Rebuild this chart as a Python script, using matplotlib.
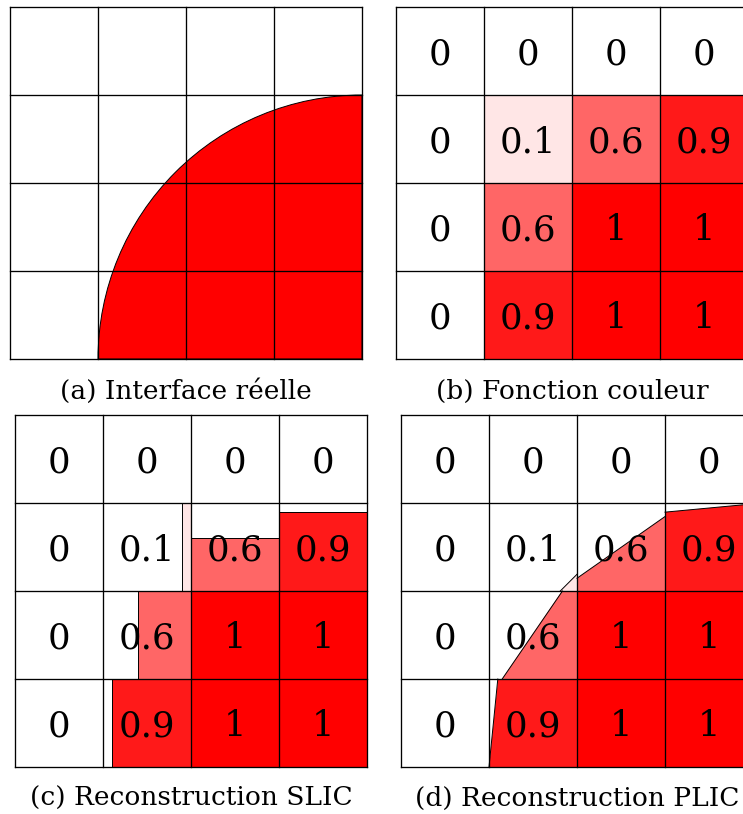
import numpy as np
import matplotlib
matplotlib.use("Agg")
import matplotlib.pyplot as plt
from matplotlib.patches import Polygon, Rectangle, Wedge

# ---------------- data ----------------
# volume fractions, rows listed from top to bottom
fractions = [
    [0, 0, 0, 0],
    [0, 0.1, 0.6, 0.9],
    [0, 0.6, 1, 1],
    [0, 0.9, 1, 1],
]
# SLIC: direction of the reconstruction in each mixed cell
# 'x' -> liquid column at the right of the cell, 'y' -> liquid layer at the bottom
slic_orient = [
    [None, None, None, None],
    [None, "x", "y", "y"],
    [None, "x", None, None],
    [None, "x", None, None],
]
# PLIC: interface segment in each mixed cell (local cell coords, y upward)
plic_segments = {
    (1, 1): ((0.81, 0.0), (1.0, 0.19)),
    (1, 2): ((0.0, 0.145), (1.0, 0.846)),
    (1, 3): ((0.0, 0.896), (1.0, 0.99)),
    (2, 1): ((0.15, 0.0), (0.835, 1.0)),
    (3, 1): ((0.0, 0.0), (0.10, 1.0)),
}
# true interface: quarter circle centred on the lower-right corner
circle_center = (4, 0)
circle_radius = 3

captions = ["(a) Interface réelle", "(b) Fonction couleur",
            "(c) Reconstruction SLIC", "(d) Reconstruction PLIC"]

# ---------------- style ----------------
W, H = 743, 814
FONT = "DejaVu Serif"
GRID_LW = 0.95
EDGE_LW = 0.7
NUM_SIZE = 25.5
CAP_SIZE = 19


def color_of(f):
    return (1.0, 1.0 - f, 1.0 - f)


fig = plt.figure(figsize=(W / 100, H / 100), dpi=100)


def make_ax(left, top, size=352):
    ax = fig.add_axes([left / W, (H - top - size) / H, size / W, size / H])
    ax.set_xlim(0, 4)
    ax.set_ylim(0, 4)
    ax.axis("off")
    return ax


def draw_grid(ax):
    for k in range(5):
        ax.plot([k, k], [0, 4], color="black", lw=GRID_LW, zorder=5, clip_on=False,
                solid_capstyle="projecting")
        ax.plot([0, 4], [k, k], color="black", lw=GRID_LW, zorder=5, clip_on=False,
                solid_capstyle="projecting")


def draw_numbers(ax):
    for r, row in enumerate(fractions):
        for c, v in enumerate(row):
            ax.text(c + 0.5, 3 - r + 0.5, f"{v:g}", ha="center", va="center_baseline",
                    fontsize=NUM_SIZE, family=FONT, zorder=3)


def clip_square(p0, p1, keep=(1.0, 0.0)):
    """Part of the unit square on the side of the line p0-p1 that holds `keep`."""
    (x0, y0), (x1, y1) = p0, p1

    def side(p):
        return (x1 - x0) * (p[1] - y0) - (y1 - y0) * (p[0] - x0)

    s_keep = np.sign(side(keep))
    square = [(0, 0), (1, 0), (1, 1), (0, 1)]
    out = []
    n = len(square)
    for i in range(n):
        a, b = square[i], square[(i + 1) % n]
        sa, sb = side(a) * s_keep, side(b) * s_keep
        if sa >= -1e-12:
            out.append(a)
        if (sa > 1e-12 and sb < -1e-12) or (sa < -1e-12 and sb > 1e-12):
            t = sa / (sa - sb)
            out.append((a[0] + t * (b[0] - a[0]), a[1] + t * (b[1] - a[1])))
    return out


# (a) true interface
ax_a = make_ax(10, 7)
ax_a.add_patch(Wedge(circle_center, circle_radius, 90, 180, facecolor="red",
                     edgecolor="black", lw=EDGE_LW, zorder=1))
draw_grid(ax_a)

# (b) colour function
ax_b = make_ax(396, 7)
for r, row in enumerate(fractions):
    for c, v in enumerate(row):
        if v > 0:
            ax_b.add_patch(Rectangle((c, 3 - r), 1, 1, facecolor=color_of(v),
                                     edgecolor="none", zorder=1))
draw_numbers(ax_b)
draw_grid(ax_b)

# (c) SLIC reconstruction
ax_c = make_ax(15, 415)
for r, row in enumerate(fractions):
    for c, v in enumerate(row):
        if v <= 0:
            continue
        y = 3 - r
        if v >= 1:
            ax_c.add_patch(Rectangle((c, y), 1, 1, facecolor=color_of(v),
                                     edgecolor="none", zorder=1))
            continue
        if slic_orient[r][c] == "x":
            xy, w, h = (c + 1 - v, y), v, 1
        else:
            xy, w, h = (c, y), 1, v
        ax_c.add_patch(Rectangle(xy, w, h, facecolor=color_of(v),
                                 edgecolor="none", zorder=2))
        ax_c.add_patch(Rectangle(xy, w, h, facecolor="none",
                                 edgecolor="black", lw=EDGE_LW, zorder=4))
draw_numbers(ax_c)
draw_grid(ax_c)

# (d) PLIC reconstruction
ax_d = make_ax(401, 415)
for r, row in enumerate(fractions):
    for c, v in enumerate(row):
        if v <= 0:
            continue
        y = 3 - r
        if (r, c) in plic_segments:
            p0, p1 = plic_segments[(r, c)]
            poly = [(c + px, y + py) for px, py in clip_square(p0, p1)]
            ax_d.add_patch(Polygon(poly, closed=True, facecolor=color_of(v),
                                   edgecolor="none", zorder=2))
            ax_d.plot([c + p0[0], c + p1[0]], [y + p0[1], y + p1[1]], color="black",
                      lw=EDGE_LW, zorder=4)
        else:
            ax_d.add_patch(Rectangle((c, y), 1, 1, facecolor=color_of(v),
                                     edgecolor="none", zorder=1))
draw_numbers(ax_d)
draw_grid(ax_d)

# captions
cap_pos = [(186, 391), (572, 391), (191, 798), (577, 798)]
for (cx, cy), txt in zip(cap_pos, captions):
    fig.text(cx / W, 1 - cy / H, txt, ha="center", va="center", fontsize=CAP_SIZE,
             family=FONT)

fig.savefig("out.png", dpi=100, facecolor="white")
